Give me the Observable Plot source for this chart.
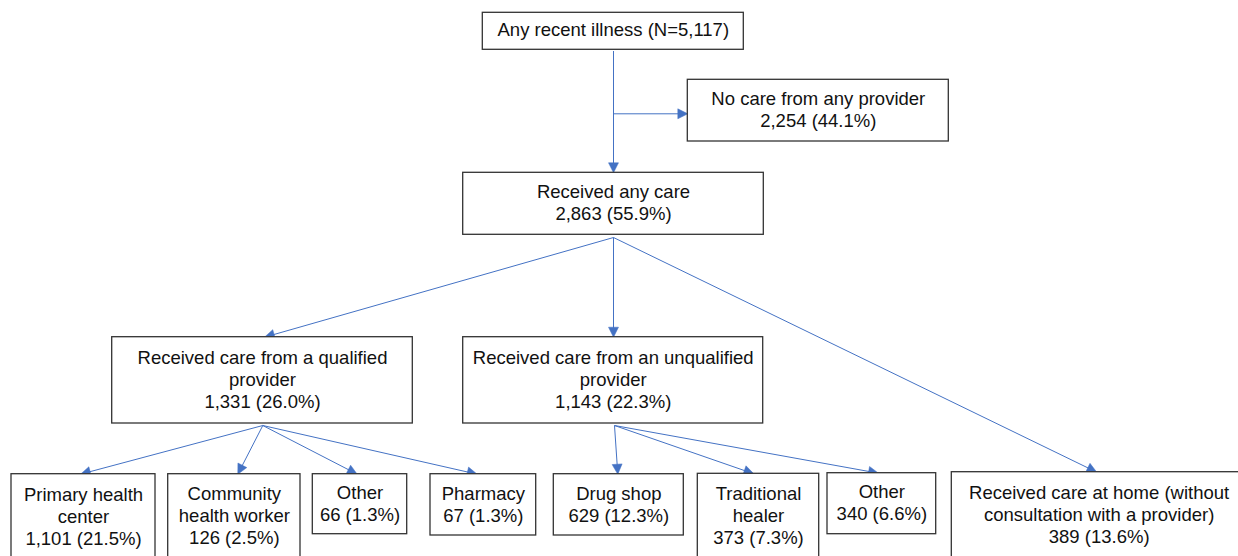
<!DOCTYPE html>
<html><head><meta charset="utf-8">
<script src="https://cdn.jsdelivr.net/npm/d3@7"></script>
<script src="https://cdn.jsdelivr.net/npm/@observablehq/plot@0.6"></script>
<style>html,body{margin:0;padding:0;background:#fff;overflow:hidden}</style>
</head><body><div id="chart"></div>
<script>
// ---- data ----
const nodeIds = ["illness","none","any","qual","unqual","phc","chw","otherQ","pharm","drug","trad","otherU","home"];
const nodeLabels = [
  "Any recent illness",
  "No care from any provider",
  "Received any care",
  "Received care from a qualified\nprovider",
  "Received care from an unqualified\nprovider",
  "Primary health\ncenter",
  "Community\nhealth worker",
  "Other",
  "Pharmacy",
  "Drug shop",
  "Traditional\nhealer",
  "Other",
  "Received care at home (without\nconsultation with a provider)"
];
const nodeCounts = [5117, 2254, 2863, 1331, 1143, 1101, 126, 66, 67, 629, 373, 340, 389];
const nodePercents = [null, 44.1, 55.9, 26.0, 22.3, 21.5, 2.5, 1.3, 1.3, 12.3, 7.3, 6.6, 13.6];
const edgeFrom = ["illness","illness","any","any","any","qual","qual","qual","qual","unqual","unqual","unqual"];
const edgeTo   = ["any","none","qual","unqual","home","phc","chw","otherQ","pharm","drug","trad","otherU"];

// ---- layout (pixel positions of the boxes and connectors) ----
const boxX1 = [482.3, 687.3, 462.7, 111.7, 462.7, 11, 167.7, 312.3, 430, 553.3, 697.3, 827, 951.3];
const boxX2 = [743.3, 948.3, 763.3, 412.3, 762.7, 155, 300, 406.7, 535.7, 683.3, 818.7, 935.7, 1246];
const boxY1 = [12.3, 79.3, 172.3, 336.7, 336.7, 473.7, 473.7, 473.7, 473.7, 473.7, 473.3, 472.7, 471.7];
const boxY2 = [49.3, 141, 234.3, 423, 423, 562, 562, 533.7, 535, 535, 562, 533.7, 562];
const textPad = [8, 10, 10, 11, 11, 11, 10.5, 9, 10, 10.5, 10.5, 9, 11];
const edgeX1 = [613, 613, 613, 613, 613, 262.3, 262.3, 262.3, 262.3, 614, 614, 614];
const edgeY1 = [50.5, 113.3, 237, 237, 237, 425, 425, 425, 425, 425, 425, 425];
const edgeX2 = [613, 687.3, 264, 613, 1096.3, 80, 237.3, 356.7, 476.7, 617.3, 753.3, 878];
const edgeY2 = [172.3, 113.3, 336.7, 336.7, 471.7, 473.7, 473.7, 473.7, 473.7, 473.7, 473.3, 472.7, 471.7];

const fmt = d3.format(",");
const nodes = nodeIds.map((id, i) => ({
  id,
  x1: boxX1[i], x2: boxX2[i], y1: boxY1[i], y2: boxY2[i], pad: textPad[i],
  text: nodePercents[i] == null
    ? `${nodeLabels[i]} (N=${fmt(nodeCounts[i])})`
    : `${nodeLabels[i]}\n${fmt(nodeCounts[i])} (${nodePercents[i].toFixed(1)}%)`
}));

const headLen = 10, headW = 10;
const edges = edgeFrom.map((f, i) => {
  const x1 = edgeX1[i], y1 = edgeY1[i], x2 = edgeX2[i], y2 = edgeY2[i];
  const len = Math.hypot(x2 - x1, y2 - y1);
  const ux = (x2 - x1) / len, uy = (y2 - y1) / len;
  return {id: i, from: f, to: edgeTo[i], x1, y1, x2, y2, ux, uy,
          bx: x2 - ux * (headLen - 1), by: y2 - uy * (headLen - 1)};
});
const heads = edges.flatMap(e => {
  const bx = e.x2 - e.ux * headLen, by = e.y2 - e.uy * headLen;
  const nx = -e.uy, ny = e.ux;
  return [
    {id: e.id, x: e.x2, y: e.y2},
    {id: e.id, x: bx + nx * headW / 2, y: by + ny * headW / 2},
    {id: e.id, x: bx - nx * headW / 2, y: by - ny * headW / 2},
    {id: e.id, x: e.x2, y: e.y2}
  ];
});

const blue = "#4472c4";
const plot = Plot.plot({
  width: 1238, height: 556,
  marginTop: 0, marginRight: 0, marginBottom: 0, marginLeft: 0,
  x: {domain: [0, 1238], range: [0, 1238], axis: null},
  y: {domain: [0, 556], range: [0, 556], axis: null},
  style: {fontFamily: "'Liberation Sans', Arial, Helvetica, sans-serif", background: "#fff", overflow: "hidden"},
  marks: [
    Plot.link(edges, {x1: "x1", y1: "y1", x2: "bx", y2: "by", stroke: blue, strokeWidth: 1}),
    Plot.line(heads, {x: "x", y: "y", z: "id", fill: blue, stroke: blue, strokeWidth: 0.5}),
    Plot.rect(nodes, {x1: "x1", x2: "x2", y1: "y1", y2: "y2", fill: "white", stroke: "#333", strokeWidth: 1.3}),
    Plot.text(nodes, {
      x: d => (d.x1 + d.x2) / 2,
      y: d => d.y1 + d.pad,
      text: "text", lineAnchor: "top", textAnchor: "middle",
      fontSize: 18.5, lineHeight: 1.19, fill: "#111"
    })
  ]
});
document.getElementById("chart").appendChild(plot);
</script>
</body></html>
